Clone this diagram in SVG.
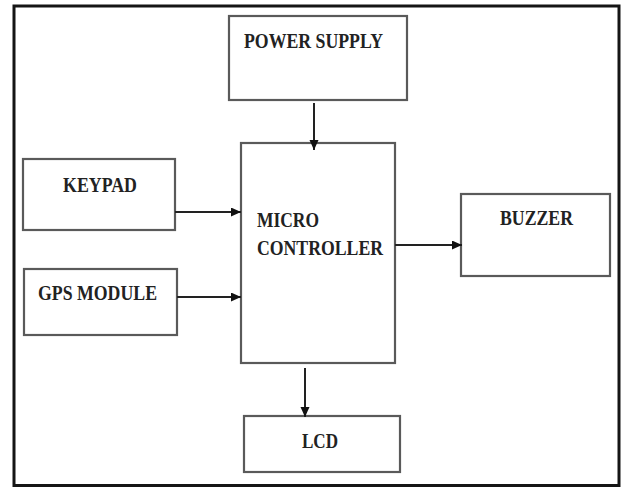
<svg xmlns="http://www.w3.org/2000/svg" width="621" height="487" viewBox="0 0 621 487">
  <style>
    .box { fill: #ffffff; stroke: #5a5a5a; stroke-width: 2.2; }
    .lbl { font-family: "Liberation Serif", "Times New Roman", serif; font-weight: bold; font-size: 22px; fill: #222222; }
    .wire { fill: none; stroke: #222222; stroke-width: 2; marker-end: url(#head); }
  </style>
  <defs>
    <marker id="head" markerUnits="userSpaceOnUse" markerWidth="11" markerHeight="10" refX="10" refY="4.5" orient="auto">
      <path d="M0,0 L10,4.5 L0,9 Z" fill="#111111"/>
    </marker>
  </defs>

  <rect width="621" height="487" fill="#ffffff"/>
  <!-- frame -->
  <rect x="14" y="6" width="605" height="479.5" fill="none" stroke="#151515" stroke-width="3"/>

  <g id="power-supply">
    <rect class="box" x="229" y="16" width="178" height="84"/>
    <text class="lbl" x="244" y="48" textLength="139" lengthAdjust="spacingAndGlyphs">POWER SUPPLY</text>
  </g>

  <g id="micro-controller">
    <rect class="box" x="241" y="143" width="154" height="220"/>
    <text class="lbl" x="257" y="227" textLength="62" lengthAdjust="spacingAndGlyphs">MICRO</text>
    <text class="lbl" x="257" y="255" textLength="126" lengthAdjust="spacingAndGlyphs">CONTROLLER</text>
  </g>

  <g id="keypad">
    <rect class="box" x="23" y="159" width="152" height="71"/>
    <text class="lbl" x="63" y="192" textLength="74" lengthAdjust="spacingAndGlyphs">KEYPAD</text>
  </g>

  <g id="gps-module">
    <rect class="box" x="24" y="269" width="153" height="66"/>
    <text class="lbl" x="38" y="300" textLength="119" lengthAdjust="spacingAndGlyphs">GPS MODULE</text>
  </g>

  <g id="buzzer">
    <rect class="box" x="461" y="194" width="149" height="82"/>
    <text class="lbl" x="500" y="225" textLength="73" lengthAdjust="spacingAndGlyphs">BUZZER</text>
  </g>

  <g id="lcd">
    <rect class="box" x="244" y="416" width="156" height="56"/>
    <text class="lbl" x="302" y="448" textLength="36" lengthAdjust="spacingAndGlyphs">LCD</text>
  </g>

  <g id="connectors">
    <line class="wire" x1="314" y1="103" x2="314" y2="150"/>
    <line class="wire" x1="175" y1="212" x2="241" y2="212"/>
    <line class="wire" x1="177" y1="297" x2="241" y2="297"/>
    <line class="wire" x1="395" y1="245" x2="462" y2="245"/>
    <line class="wire" x1="305" y1="368" x2="305" y2="417"/>
  </g>
</svg>
